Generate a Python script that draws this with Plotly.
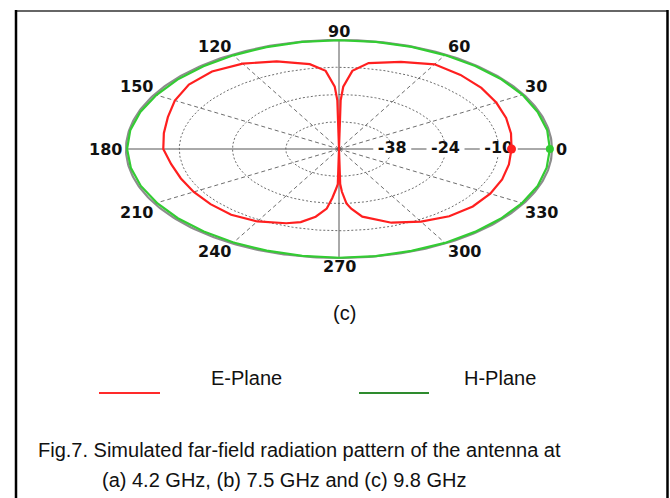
import numpy as np
import plotly.graph_objects as go

# ---------------- data ----------------
E_ANGLES = [0, 10, 20, 30, 40, 50, 60, 70, 80, 85, 88, 89, 90, 91, 92, 95, 100, 110, 120,
            130, 140, 150, 160, 170, 180, 190, 200, 210, 220, 230, 240, 250, 255, 260, 264,
            266, 268, 269, 270, 271, 272, 274, 276, 280, 290, 300, 310, 320, 330, 340, 350, 360]
E_DB = [-7.6, -7.2, -6.6, -5.9, -5.1, -4.5, -4.1, -6.0, -8.0, -11.7, -20.0, -27.0, -52.0,
        -27.0, -20.0, -11.7, -8.4, -5.8, -3.8, -2.9, -3.2, -4.4, -5.8, -6.6, -7.0, -8.0,
        -8.4, -8.5, -8.5, -8.5, -9.3, -11.4, -13.1, -16.7, -21.2, -26.8, -31.8, -34.0,
        -52.0, -34.0, -30.0, -24.0, -21.2, -16.7, -11.7, -9.2, -7.8, -7.2, -7.2, -7.4,
        -7.6, -7.6]

H_ANGLES = [0, 10, 20, 30, 40, 50, 60, 70, 80, 90, 100, 110, 120, 130, 140, 150, 160, 170,
            180, 190, 200, 210, 220, 230, 240, 250, 260, 270, 280, 290, 300, 310, 320, 330,
            340, 350, 360]
H_DB = [-0.4, -0.3, -0.3, -0.2, -0.2, -0.2, -0.2, -0.1, -0.1, -0.1, -0.1, -0.2, -0.3, -0.4,
        -0.4, -0.4, -0.3, -0.2, -0.2, -0.3, -0.4, -0.5, -0.5, -0.5, -0.4, -0.3, -0.2, -0.1,
        -0.1, -0.2, -0.2, -0.3, -0.3, -0.3, -0.3, -0.4, -0.4]

R_MIN = -52
R_TICKS = [-38, -24, -10, 0]
R_TICK_LABELS = ["-38", "-24", "-10"]
ANGLE_TICKS = [0, 30, 60, 90, 120, 150, 180, 210, 240, 270, 300, 330]
ANGLE_LABELS = ["0", "30", "60", "90", "120", "150", "180", "210", "240", "270", "300", "330"]
SERIES_NAMES = ["E-Plane", "H-Plane"]
SUBLABEL = "(c)"
CAPTION_1 = "Fig.7. Simulated far-field radiation pattern of the antenna at"
CAPTION_2 = "(a) 4.2 GHz, (b) 7.5 GHz and (c) 9.8 GHz"

# ---------------- geometry ----------------
OFF = 0                      # body margin removed by post_script below
W, H = 670 - OFF, 498 - OFF  # figure size
CX, CY = 339 - OFF, 149 - OFF  # pole position inside the figure (px)
RX, RY = 213, 109              # outer ellipse half-axes (px)

RED = "#ff1f1f"
GREEN = "#33cc33"
GRID = "#6e6e6e"
LBL_FONT = "DejaVu Sans"
TXT_FONT = "Liberation Sans, Arial, sans-serif"


def rho(db):
    return np.interp(np.asarray(db, float), [R_MIN] + R_TICKS, [0.0, 0.25, 0.5, 0.75, 1.0])


def to_xy(ang, db):
    r = rho(db)
    a = np.radians(np.asarray(ang, float))
    return r * np.cos(a), r * np.sin(a)


def px(x):  # window px -> paper
    return (x - OFF) / W


def py(y):
    return 1 - (y - OFF) / H


fig = go.Figure()
t = np.linspace(0, 2 * np.pi, 361)

# dotted rings
for rt in R_TICKS[:-1]:
    r = rho(rt)
    fig.add_trace(go.Scatter(x=r * np.cos(t), y=r * np.sin(t), mode="lines",
                             line=dict(color=GRID, width=1, dash="2px,2px"), hoverinfo="skip"))

# dashed spokes
sx, sy = [], []
for a in ANGLE_TICKS:
    if a % 90:
        sx += [0, np.cos(np.radians(a)), None]
        sy += [0, np.sin(np.radians(a)), None]
fig.add_trace(go.Scatter(x=sx, y=sy, mode="lines",
                         line=dict(color=GRID, width=1, dash="4px,3px"), hoverinfo="skip"))

# main axes (solid)
fig.add_trace(go.Scatter(x=[-1, 1, None, 0, 0], y=[0, 0, None, -1, 1], mode="lines",
                         line=dict(color="#555555", width=1), hoverinfo="skip"))

# outer ring
fig.add_trace(go.Scatter(x=np.cos(t), y=np.sin(t), mode="lines",
                         line=dict(color="#8c8c8c", width=2.2), hoverinfo="skip"))

# white boxes behind radial tick labels
hw, hh = 19 / RX, 7 / RY
for rt in R_TICKS[:-1]:
    r = rho(rt)
    fig.add_trace(go.Scatter(x=[r - hw, r + hw, r + hw, r - hw, r - hw],
                             y=[-hh, -hh, hh, hh, -hh], mode="lines", fill="toself",
                             fillcolor="white", line=dict(width=0, color="white"),
                             hoverinfo="skip"))
fig.add_trace(go.Scatter(x=[rho(v) for v in R_TICKS[:-1]], y=[0, 0, 0], mode="text",
                         text=R_TICK_LABELS, textposition="middle center",
                         textfont=dict(family=LBL_FONT, size=16, color="#111111", weight="bold"),
                         hoverinfo="skip"))

# curves
ex, ey = to_xy(E_ANGLES, E_DB)
hx, hy = to_xy(H_ANGLES, H_DB)
fig.add_trace(go.Scatter(x=hx, y=hy, mode="lines", name=SERIES_NAMES[1],
                         line=dict(color=GREEN, width=2.2)))
fig.add_trace(go.Scatter(x=ex, y=ey, mode="lines", name=SERIES_NAMES[0],
                         line=dict(color=RED, width=2.2)))
fig.add_trace(go.Scatter(x=[ex[0]], y=[ey[0]], mode="markers",
                         marker=dict(color=RED, size=9), hoverinfo="skip"))
fig.add_trace(go.Scatter(x=[hx[0]], y=[hy[0]], mode="markers",
                         marker=dict(color=GREEN, size=8), hoverinfo="skip"))

# angle labels
ann = []
for a, lab in zip(ANGLE_TICKS, ANGLE_LABELS):
    c, s = np.cos(np.radians(a)), np.sin(np.radians(a))
    if a == 0:
        xa, ya, x0, y0 = "left", "middle", 1.01, 0
    elif a == 180:
        xa, ya, x0, y0 = "right", "middle", -1.01, 0
    elif a == 90:
        xa, ya, x0, y0 = "center", "bottom", 0, 1.0
    elif a == 270:
        xa, ya, x0, y0 = "center", "top", 0, -1.0
    else:
        xa = "left" if c > 0 else "right"
        ya = "bottom" if s > 0 else "top"
        x0, y0 = c, s
    ann.append(dict(x=x0, y=y0, xref="x", yref="y", text=lab, showarrow=False,
                    xanchor=xa, yanchor=ya,
                    yshift=(-3 if ya == "bottom" else (3 if ya == "top" else 0)),
                    font=dict(family=LBL_FONT, size=16, color="#111111", weight="bold")))


# lower texts
def txt(x, y, s, anchor="center"):
    return dict(x=px(x), y=py(y), xref="paper", yref="paper", text=s, showarrow=False,
                xanchor=anchor, yanchor="middle",
                font=dict(family=TXT_FONT, size=20, color="#111111"))


ann.append(txt(344, 313, SUBLABEL))
ann.append(txt(247, 378, SERIES_NAMES[0]))
ann.append(txt(500, 378, SERIES_NAMES[1]))
ann.append(txt(36, 450, CAPTION_1, "left"))
ann.append(txt(100, 480, CAPTION_2, "left"))

shapes = [
    dict(type="line", xref="paper", yref="paper", x0=px(99), x1=px(160), y0=py(393), y1=py(393),
         line=dict(color="#ff2a2a", width=2)),
    dict(type="line", xref="paper", yref="paper", x0=px(359), x1=px(429), y0=py(393), y1=py(393),
         line=dict(color="#2e8b2e", width=2)),
    dict(type="line", xref="paper", yref="paper", x0=px(15), x1=px(668), y0=py(11), y1=py(11),
         line=dict(color="#666666", width=2)),
    dict(type="line", xref="paper", yref="paper", x0=px(16), x1=px(16), y0=py(10), y1=py(498),
         line=dict(color="#000000", width=2.5)),
    dict(type="line", xref="paper", yref="paper", x0=px(667.5), x1=px(667.5), y0=py(10), y1=py(498),
         line=dict(color="#000000", width=2.5)),
]

fig.update_layout(
    width=W, height=H, margin=dict(l=0, r=0, t=0, b=0),
    paper_bgcolor="white", plot_bgcolor="white", showlegend=False,
    xaxis=dict(range=[-CX / RX, (W - CX) / RX], visible=False, fixedrange=True),
    yaxis=dict(range=[-(H - CY) / RY, CY / RY], visible=False, fixedrange=True),
    annotations=ann, shapes=shapes,
)

fig.write_html(
    "out.html",
    config={"displayModeBar": False, "responsive": False},
    post_script="document.body.style.margin='0';document.body.style.padding='0';"
                "document.documentElement.style.overflow='hidden';",
)
